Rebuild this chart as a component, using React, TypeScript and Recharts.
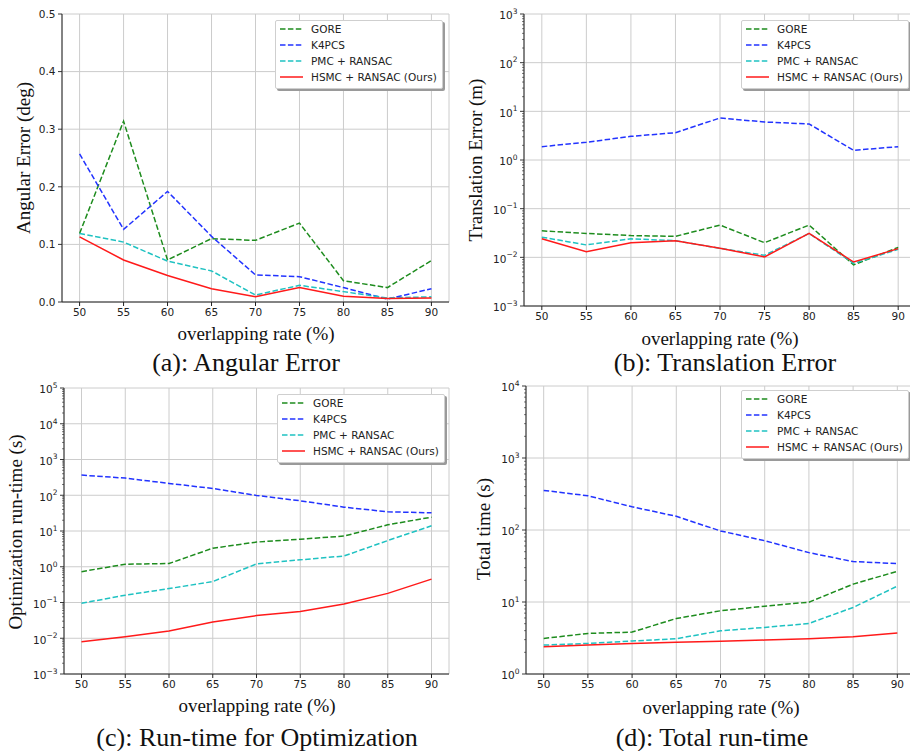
import React from 'react';
import { LineChart, Line, XAxis, YAxis, CartesianGrid, Legend } from 'recharts';

const RATES = [50, 55, 60, 65, 70, 75, 80, 85, 90];

// (a) angular error (deg)
const ANG_GORE = [0.119, 0.314, 0.073, 0.11, 0.107, 0.137, 0.037, 0.025, 0.072];
const ANG_K4PCS = [0.257, 0.126, 0.192, 0.114, 0.047, 0.044, 0.025, 0.005, 0.023];
const ANG_PMC = [0.119, 0.104, 0.071, 0.054, 0.012, 0.029, 0.018, 0.007, 0.009];
const ANG_HSMC = [0.113, 0.073, 0.046, 0.023, 0.009, 0.025, 0.01, 0.006, 0.007];

// (b) translation error (m)
const TRA_GORE = [0.035, 0.031, 0.028, 0.027, 0.046, 0.02, 0.046, 0.007, 0.016];
const TRA_K4PCS = [1.88, 2.31, 3.06, 3.64, 7.3, 6.04, 5.5, 1.58, 1.88];
const TRA_PMC = [0.026, 0.018, 0.024, 0.022, 0.0153, 0.011, 0.031, 0.0075, 0.0146];
const TRA_HSMC = [0.024, 0.013, 0.02, 0.022, 0.0153, 0.0102, 0.031, 0.008, 0.0151];

// (c) optimization run-time (s)
const OPT_GORE = [0.73, 1.18, 1.23, 3.3, 4.9, 5.9, 7.2, 14.9, 24.4];
const OPT_K4PCS = [366, 302, 214, 155, 99, 70, 46.5, 34.4, 32.3];
const OPT_PMC = [0.095, 0.16, 0.245, 0.385, 1.2, 1.56, 2.0, 5.4, 14];
const OPT_HSMC = [0.008, 0.011, 0.016, 0.0285, 0.043, 0.056, 0.091, 0.18, 0.45];

// (d) total time (s)
const TOT_GORE = [3.12, 3.66, 3.82, 5.9, 7.55, 8.75, 9.95, 17.7, 26.7];
const TOT_K4PCS = [355, 299, 210, 155, 97, 71, 48.5, 36.4, 34.2];
const TOT_PMC = [2.52, 2.66, 2.87, 3.09, 3.98, 4.43, 5.04, 8.4, 16.6];
const TOT_HSMC = [2.39, 2.52, 2.66, 2.75, 2.84, 2.96, 3.09, 3.29, 3.7];

const ANG_TICKS = [0, 0.1, 0.2, 0.3, 0.4, 0.5];
const TRA_DECADES = [-3, -2, -1, 0, 1, 2, 3];
const OPT_DECADES = [-3, -2, -1, 0, 1, 2, 3, 4, 5];
const TOT_DECADES = [0, 1, 2, 3, 4];

const SERIES = [
  { key: 'gore', name: 'GORE', color: '#1e8c1e', dash: '5.5 2.4' },
  { key: 'k4pcs', name: 'K4PCS', color: '#2233ff', dash: '5.5 2.4' },
  { key: 'pmc', name: 'PMC + RANSAC', color: '#1fc2c2', dash: '5.5 2.4' },
  { key: 'hsmc', name: 'HSMC + RANSAC (Ours)', color: '#ff1a1a', dash: undefined },
];

const sans = '"DejaVu Sans", sans-serif';
const serif = '"Liberation Serif", "Times New Roman", serif';

const makeRows = (gore: number[], k4pcs: number[], pmc: number[], hsmc: number[]) =>
  RATES.map((rate, i) => ({ rate, gore: gore[i], k4pcs: k4pcs[i], pmc: pmc[i], hsmc: hsmc[i] }));

// major decades plus 2..9 minor ticks, like matplotlib's log locator
const logTicks = (decades: number[]) => {
  const out: number[] = [];
  decades.forEach((d, i) => {
    out.push(Math.pow(10, d));
    if (i < decades.length - 1) {
      for (let m = 2; m < 10; m++) out.push(m * Math.pow(10, d));
    }
  });
  return out;
};

function YTick(props: any) {
  const { x, y, payload, log } = props;
  const v = payload.value;
  if (!log) {
    return (
      <g>
        <line x1={x - 4} x2={x} y1={y} y2={y} stroke="#222" strokeWidth={0.9} />
        <text x={x - 6.5} y={y} dy="0.36em" textAnchor="end" fontSize={10.5} fontFamily={sans} fill="#222">
          {v.toFixed(1)}
        </text>
      </g>
    );
  }
  const e = Math.log10(v);
  const major = Math.abs(e - Math.round(e)) < 1e-6;
  const exp = Math.round(e);
  return (
    <g>
      <line x1={x - (major ? 4 : 2)} x2={x} y1={y} y2={y} stroke="#222" strokeWidth={major ? 0.9 : 0.6} />
      {major && (
        <text x={x - 6.5} y={y} dy="0.5em" textAnchor="end" fontSize={10.5} fontFamily={sans} fill="#222">
          10
          <tspan dy={-5.5} fontSize={7.5}>
            {exp < 0 ? '\u2212' + Math.abs(exp) : String(exp)}
          </tspan>
        </text>
      )}
    </g>
  );
}

function LegendBox(props: any) {
  const keys = (props.payload || []).map((p: any) => p.dataKey);
  const items = SERIES.filter((s) => keys.length === 0 || keys.includes(s.key));
  return (
    <div
      style={{
        display: 'inline-block',
        background: '#fff',
        border: '1px solid #cfcfcf',
        borderRadius: 2,
        boxShadow: '2px 2px 0 #9a9a9a',
        padding: '0 5px 3px 4px',
        fontFamily: sans,
        fontSize: 10.5,
        color: '#222',
        whiteSpace: 'nowrap',
      }}
    >
      {items.map((s) => (
        <div key={s.key} style={{ display: 'flex', alignItems: 'center', height: 16 }}>
          <svg width={23} height={4} style={{ display: 'block' }}>
            <line x1={0} x2={23} y1={2} y2={2} stroke={s.color} strokeWidth={1.5} strokeDasharray={s.dash} />
          </svg>
          <span style={{ marginLeft: 8 }}>{s.name}</span>
        </div>
      ))}
    </div>
  );
}

type PanelProps = {
  left: number;
  top: number;
  width: number;
  height: number;
  plotLeft: number;
  plotRight: number;
  plotTop: number;
  plotBottom: number;
  data: any[];
  log: boolean;
  domain: [number, number];
  ticks: number[];
  gridValues: number[];
  legendPos: [number, number];
};

function Panel(p: PanelProps) {
  return (
    <div style={{ position: 'absolute', left: p.left, top: p.top }}>
      <LineChart
        width={p.width}
        height={p.height}
        data={p.data}
        margin={{ top: p.plotTop, right: p.width - p.plotRight, bottom: 0, left: 0 }}
      >
        <CartesianGrid stroke="#cccccc" strokeWidth={1} horizontalValues={p.gridValues} />
        <XAxis
          dataKey="rate"
          type="number"
          domain={[48, 92]}
          ticks={RATES}
          interval={0}
          height={p.height - p.plotBottom}
          tickSize={4}
          tickMargin={3}
          axisLine={{ stroke: '#222' }}
          tickLine={{ stroke: '#222' }}
          tick={{ fontSize: 10.5, fill: '#222', fontFamily: sans }}
        />
        <XAxis
          xAxisId="top"
          orientation="top"
          type="number"
          domain={[48, 92]}
          height={0}
          tick={false}
          tickLine={false}
          axisLine={{ stroke: '#222' }}
        />
        <YAxis
          type="number"
          scale={p.log ? 'log' : 'linear'}
          domain={p.domain}
          allowDataOverflow
          ticks={p.ticks}
          interval={0}
          width={p.plotLeft}
          tickSize={0}
          tickMargin={0}
          tickLine={false}
          axisLine={{ stroke: '#222' }}
          tick={(t: any) => <YTick {...t} log={p.log} />}
        />
        <YAxis
          yAxisId="right"
          orientation="right"
          type="number"
          domain={[0, 1]}
          width={0}
          tick={false}
          tickLine={false}
          axisLine={{ stroke: '#222' }}
        />
        <Legend
          layout="horizontal"
          verticalAlign="middle"
          align="center"
          wrapperStyle={{ left: p.legendPos[0], top: p.legendPos[1], width: 'auto', height: 'auto' }}
          content={LegendBox}
        />
        {SERIES.map((s) => (
          <Line
            key={s.key}
            dataKey={s.key}
            name={s.name}
            type="linear"
            stroke={s.color}
            strokeWidth={1.5}
            strokeDasharray={s.dash}
            dot={false}
            activeDot={false}
            isAnimationActive={false}
          />
        ))}
      </LineChart>
    </div>
  );
}

function Txt({ x, y, size, rotate, children }: { x: number; y: number; size: number; rotate?: boolean; children: React.ReactNode }) {
  return (
    <div
      style={{
        position: 'absolute',
        left: x,
        top: y,
        transform: `translate(-50%, -50%)${rotate ? ' rotate(-90deg)' : ''}`,
        fontFamily: serif,
        fontSize: size,
        lineHeight: 1,
        whiteSpace: 'nowrap',
        color: '#111',
      }}
    >
      {children}
    </div>
  );
}

export default function App() {
  return (
    <div style={{ position: 'absolute', left: 0, top: 0, width: 910, height: 751, overflow: 'hidden', background: '#fff' }}>
      <Panel
        left={0}
        top={0}
        width={455}
        height={375}
        plotLeft={62}
        plotRight={449}
        plotTop={14}
        plotBottom={302}
        data={makeRows(ANG_GORE, ANG_K4PCS, ANG_PMC, ANG_HSMC)}
        log={false}
        domain={[0, 0.5]}
        ticks={ANG_TICKS}
        gridValues={ANG_TICKS}
        legendPos={[275, 20]}
      />
      <Panel
        left={455}
        top={0}
        width={470}
        height={375}
        plotLeft={69}
        plotRight={461}
        plotTop={14}
        plotBottom={306}
        data={makeRows(TRA_GORE, TRA_K4PCS, TRA_PMC, TRA_HSMC)}
        log
        domain={[1e-3, 1e3]}
        ticks={logTicks(TRA_DECADES)}
        gridValues={TRA_DECADES.map((d) => Math.pow(10, d))}
        legendPos={[286, 20]}
      />
      <Panel
        left={0}
        top={375}
        width={455}
        height={376}
        plotLeft={64}
        plotRight={449}
        plotTop={13}
        plotBottom={299}
        data={makeRows(OPT_GORE, OPT_K4PCS, OPT_PMC, OPT_HSMC)}
        log
        domain={[1e-3, 1e5]}
        ticks={logTicks(OPT_DECADES)}
        gridValues={OPT_DECADES.map((d) => Math.pow(10, d))}
        legendPos={[277, 19]}
      />
      <Panel
        left={455}
        top={375}
        width={470}
        height={376}
        plotLeft={71}
        plotRight={460}
        plotTop={11}
        plotBottom={299}
        data={makeRows(TOT_GORE, TOT_K4PCS, TOT_PMC, TOT_HSMC)}
        log
        domain={[1, 1e4]}
        ticks={logTicks(TOT_DECADES)}
        gridValues={TOT_DECADES.map((d) => Math.pow(10, d))}
        legendPos={[286, 15]}
      />

      <Txt x={23} y={158} size={19} rotate>Angular Error (deg)</Txt>
      <Txt x={256} y={333} size={19}>overlapping rate (%)</Txt>
      <Txt x={246} y={363} size={26}>(a): Angular Error</Txt>

      <Txt x={475} y={160} size={19} rotate>Translation Error (m)</Txt>
      <Txt x={720} y={338} size={19}>overlapping rate (%)</Txt>
      <Txt x={725} y={363} size={26}>(b): Translation Error</Txt>

      <Txt x={15} y={532} size={19} rotate>Optimization run-time (s)</Txt>
      <Txt x={257} y={705} size={19}>overlapping rate (%)</Txt>
      <Txt x={257} y={738} size={26}>(c): Run-time for Optimization</Txt>

      <Txt x={483} y={529} size={19} rotate>Total time (s)</Txt>
      <Txt x={721} y={707} size={19}>overlapping rate (%)</Txt>
      <Txt x={712} y={738} size={26}>(d): Total run-time</Txt>
    </div>
  );
}
